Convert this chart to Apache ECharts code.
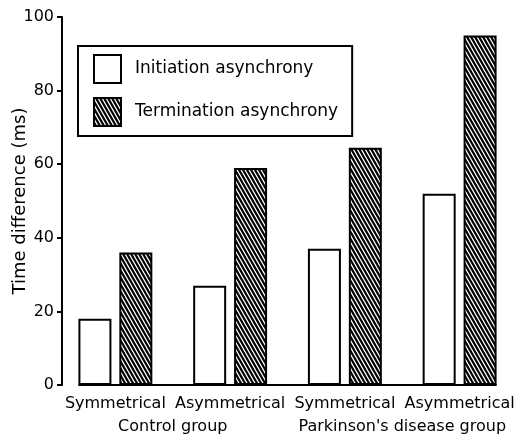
<!DOCTYPE html>
<html>
<head>
<meta charset="utf-8">
<script src="https://cdn.jsdelivr.net/npm/echarts@6/dist/echarts.min.js"></script>
<style>
  html, body { margin: 0; padding: 0; background: #fff; }
  #container { width: 531px; height: 435px; }
</style>
</head>
<body>
<div id="container"></div>
<script>
var conditions = ['Symmetrical', 'Asymmetrical', 'Symmetrical', 'Asymmetrical'];
var groups = ['Control group', "Parkinson's disease group"];
var initiation = [18, 27, 37, 52];
var termination = [36, 59, 64.5, 95];
var yTicks = [0, 20, 40, 60, 80, 100];

var dom = document.getElementById('container');
var myChart = echarts.init(dom, null, { renderer: 'canvas' });

// hatch tile: black with thin white diagonal stripes
var tile = document.createElement('canvas');
tile.width = 4;
tile.height = 7;
var ctx = tile.getContext('2d');
ctx.fillStyle = '#000';
ctx.fillRect(0, 0, 4, 7);
ctx.strokeStyle = '#fff';
ctx.lineWidth = 1.3;
ctx.beginPath();
ctx.moveTo(-4, -7); ctx.lineTo(8, 14);
ctx.moveTo(-8, -7); ctx.lineTo(4, 14);
ctx.moveTo(0, -7); ctx.lineTo(12, 14);
ctx.stroke();

var font = 'DejaVu Sans';
var fs = 16;
var option = {
  animation: false,
  textStyle: { fontFamily: font, color: '#000' },
  grid: { left: 58, right: 14, top: 17, bottom: 50, containLabel: false, outerBoundsMode: 'none' },
  legend: {
    orient: 'vertical',
    left: 78,
    top: 46,
    padding: [8, 14, 9, 15],
    borderColor: '#000',
    borderWidth: 2,
    icon: 'rect',
    itemWidth: 27,
    itemHeight: 28,
    itemGap: 13,
    textStyle: { fontFamily: font, fontSize: 17, color: '#000', padding: [0, 0, 0, 9] },
    data: ['Initiation asynchrony', 'Termination asynchrony']
  },
  xAxis: [
    {
      type: 'category',
      data: conditions,
      axisLine: { show: false },
      axisTick: { show: false },
      axisLabel: { fontFamily: font, fontSize: fs, color: '#000', margin: 11, interval: 0 }
    },
    {
      type: 'category',
      position: 'bottom',
      offset: 23,
      data: groups,
      axisLine: { show: false },
      axisTick: { show: false },
      axisLabel: { fontFamily: font, fontSize: fs, color: '#000', margin: 11, interval: 0 }
    }
  ],
  yAxis: {
    type: 'value',
    min: yTicks[0],
    max: yTicks[yTicks.length - 1],
    interval: 20,
    offset: -4,
    name: 'Time difference (ms)',
    nameLocation: 'middle',
    nameGap: 33,
    nameMoveOverlap: false,
    nameTextStyle: { fontFamily: font, fontSize: 18, color: '#000', padding: [0, 0, 0, 0] },
    splitLine: { show: false },
    axisLine: { show: true, lineStyle: { color: '#000', width: 2 } },
    axisTick: { show: true, length: 5, lineStyle: { color: '#000', width: 2 } },
    axisLabel: { fontFamily: font, fontSize: fs, color: '#000', margin: 8 }
  },
  series: [
    {
      name: 'Initiation asynchrony',
      type: 'bar',
      data: initiation,
      barWidth: 33,
      barGap: '24%',
      itemStyle: { color: '#fff', borderColor: '#000', borderWidth: 2 }
    },
    {
      name: 'Termination asynchrony',
      type: 'bar',
      data: termination,
      barWidth: 33,
      itemStyle: { color: { image: tile, repeat: 'repeat' }, borderColor: '#000', borderWidth: 2 }
    }
  ]
};

myChart.setOption(option);

// baseline spanning from first bar to last bar
var y0 = myChart.convertToPixel({ yAxisIndex: 0 }, 0);
var xa = myChart.convertToPixel({ xAxisIndex: 0 }, 0);
var xb = myChart.convertToPixel({ xAxisIndex: 0 }, conditions.length - 1);
myChart.setOption({
  graphic: [{
    type: 'line',
    shape: { x1: xa - 37, y1: y0, x2: xb + 37, y2: y0 },
    style: { stroke: '#000', lineWidth: 2 },
    z: 100
  }]
});

window.addEventListener('resize', myChart.resize);
</script>
</body>
</html>
